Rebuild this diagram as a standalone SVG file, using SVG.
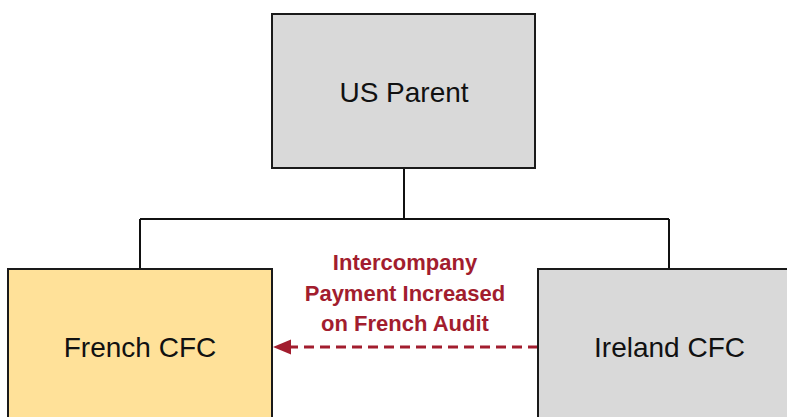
<svg xmlns="http://www.w3.org/2000/svg" width="787" height="417" viewBox="0 0 787 417">
  <style>
    .box { stroke: #1a1a1a; stroke-width: 2; }
    .grey { fill: #d9d9d9; }
    .gold { fill: #ffe199; }
    .name { font-family: "Liberation Sans", Arial, sans-serif; font-size: 28px; fill: #111; text-anchor: middle; }
    .tree { stroke: #111; stroke-width: 2; fill: none; }
    .flow { stroke: #a21d2e; stroke-width: 3; stroke-dasharray: 10 6; fill: none; }
    .label { font-family: "Liberation Sans", Arial, sans-serif; font-size: 22px; font-weight: bold; fill: #a21d2e; text-anchor: middle; }
  </style>
  <defs>
    <marker id="head" markerUnits="userSpaceOnUse" markerWidth="20" markerHeight="16" refX="18" refY="8" orient="auto">
      <path d="M0,0 L18,8 L0,16 Z" fill="#a21d2e"/>
    </marker>
  </defs>
  <rect width="787" height="417" fill="#ffffff"/>

  <g id="connectors">
    <path class="tree" d="M404,168 V219 M140,219 H669 M140,219 V269 M669,219 V269"/>
    <line class="flow" x1="538" y1="347" x2="282" y2="347"/>
    <path d="M273,347 L291,339.5 L291,354.5 Z" fill="#a21d2e"/>
    <g id="flow-label">
      <text class="label" x="405" y="270">Intercompany</text>
      <text class="label" x="405" y="300.5">Payment Increased</text>
      <text class="label" x="405" y="331">on French Audit</text>
    </g>
  </g>

  <g id="us-parent">
    <rect class="box grey" x="272" y="14" width="263" height="154"/>
    <text class="name" x="404" y="102">US Parent</text>
  </g>

  <g id="french-cfc">
    <rect class="box gold" x="8" y="269" width="264" height="160"/>
    <text class="name" x="140" y="357">French CFC</text>
  </g>

  <g id="ireland-cfc">
    <rect class="box grey" x="538" y="269" width="264" height="160"/>
    <text class="name" x="669.5" y="357">Ireland CFC</text>
  </g>
</svg>
